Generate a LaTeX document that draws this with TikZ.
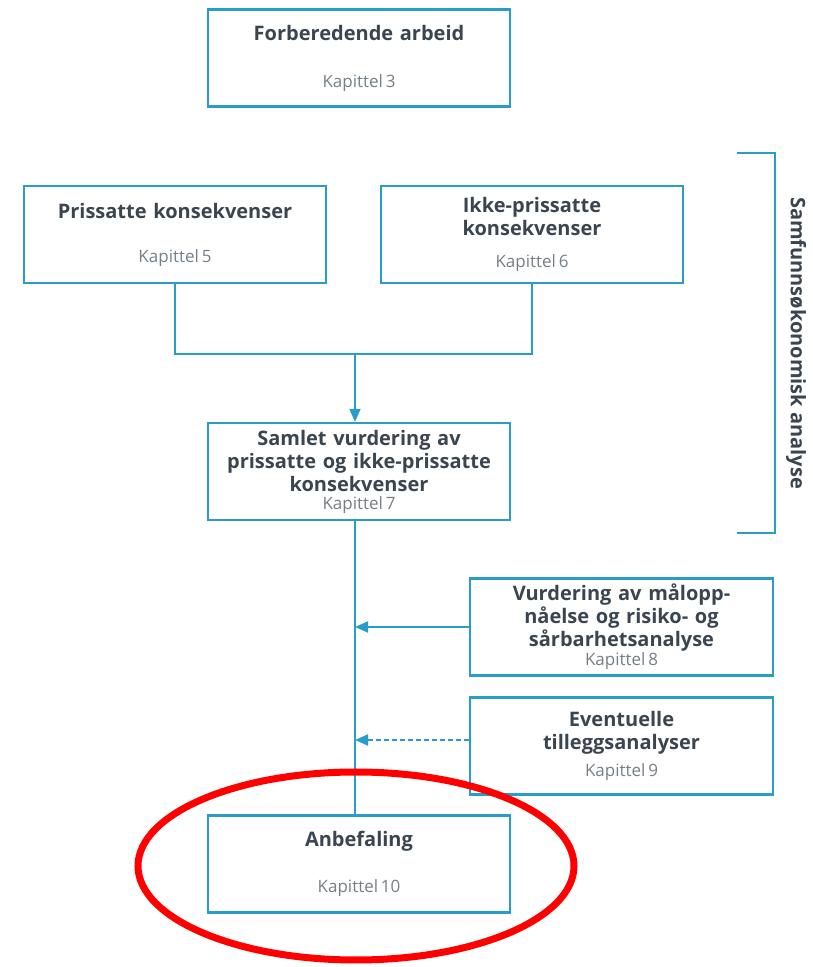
\documentclass[tikz,border=0pt]{standalone}
\usepackage{fontspec}
\setmainfont{Open Sans}
\newfontfamily\sidefont{Open Sans}
\usepackage{tikz}
\usetikzlibrary{positioning,arrows.meta}

\definecolor{lineblue}{HTML}{2A9CC8}
\definecolor{titlegray}{HTML}{3B4550}
\definecolor{kapgray}{HTML}{767E86}

\newcommand{\kap}[1]{{\fontsize{17}{18}\selectfont\mdseries\color{kapgray}#1}}

\begin{document}
\begin{tikzpicture}[x=1pt,y=1pt,
    step box/.style={draw=lineblue,line width=2.2pt,minimum width=302pt,minimum height=97pt,
      align=center,text width=296pt,font=\fontsize{20}{23}\selectfont\bfseries,text=titlegray},
    link/.style={draw=lineblue,line width=1.8pt},
    tip/.style={-{Triangle[length=13pt,width=11pt]}}]

  \useasboundingbox (0,0) rectangle (813,967);

  \node[step box] (forb) at (359,909) {Forberedende arbeid\\[24pt]\kap{Kapittel\,3}};
  \node[step box] (pris) at (175,732.5) {Prissatte konsekvenser\\[21pt]\kap{Kapittel\,5}};
  \node[step box] (ikke) at (532,732.5) {Ikke-prissatte\\konsekvenser\\[9pt]\kap{Kapittel\,6}};
  \node[step box] (samlet) at (359,495.5) {Samlet vurdering av\\prissatte og ikke-prissatte\\konsekvenser\\[-5pt]\kap{Kapittel\,7}};
  \node[step box] (vurd) at (621.5,340) {Vurdering av målopp-\\nåelse og risiko- og\\sårbarhetsanalyse\\[-4pt]\kap{Kapittel\,8}};
  \node[step box] (event) at (621.5,221) {Eventuelle\\tilleggsanalyser\\[4pt]\kap{Kapittel\,9}};
  \node[step box] (anbef) at (359,103) {Anbefaling\\[23pt]\kap{Kapittel\,10}};

  \coordinate (join) at (355,613);
  \path[link] (pris.south) |- (join) -| (ikke.south);
  \draw[link,tip] (join) -- (join |- samlet.north);
  \draw[link] ([xshift=-4pt]samlet.south) -- ([xshift=-4pt]anbef.north);
  \draw[link,tip] (vurd.west) -- (vurd.west -| join);
  \draw[link,tip,dash pattern=on 5pt off 3pt] ([yshift=6pt]event.west) -- ([yshift=6pt]event.west -| join);

  % bracket
  \coordinate (btop) at (737,814);
  \coordinate (bbot) at (737,434);
  \draw[link] (btop) -- ++(38,0) |- (bbot);
  \node[rotate=-90,font=\sidefont\fontsize{20}{22}\selectfont\bfseries,text=titlegray] (side) at (796,624) {Samfunnsøkonomisk analyse};

  \draw[red,line width=7pt] (356,101) ellipse [x radius=218pt,y radius=94pt];
\end{tikzpicture}
\end{document}
